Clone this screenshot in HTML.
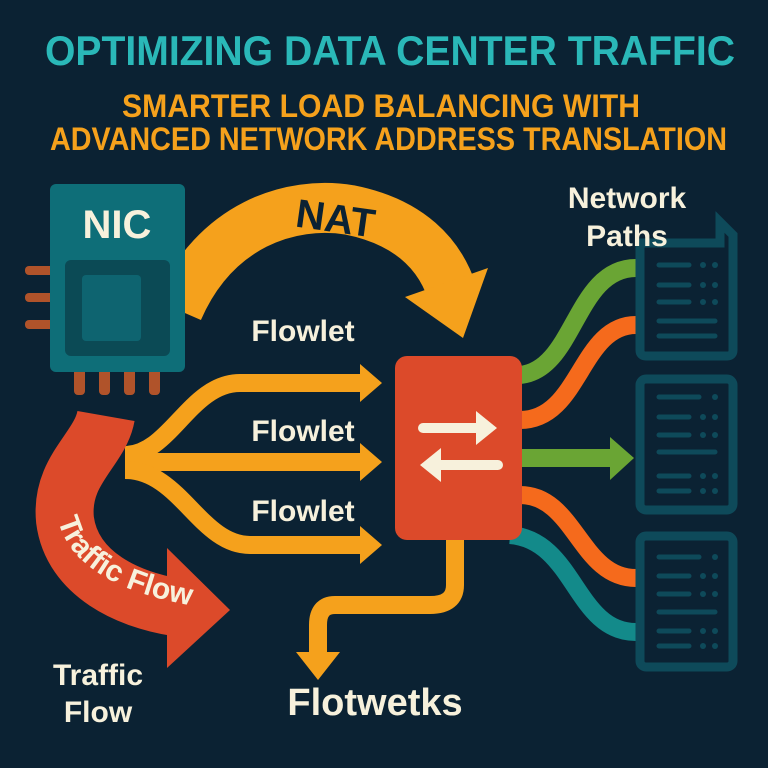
<!DOCTYPE html>
<html><head><meta charset="utf-8"><style>
html,body{margin:0;padding:0;background:#0b2233;}
svg{display:block}
text{font-family:"Liberation Sans",sans-serif;font-weight:bold}
</style></head><body>
<svg width="768" height="768" viewBox="0 0 768 768" xmlns="http://www.w3.org/2000/svg">
<rect width="768" height="768" fill="#0b2233"/>
<text x="45" y="65" font-size="42" fill="#2ab8b8" textLength="690" lengthAdjust="spacingAndGlyphs">OPTIMIZING DATA CENTER TRAFFIC</text>
<text x="122" y="117" font-size="32" fill="#f5a11c" textLength="518" lengthAdjust="spacingAndGlyphs">SMARTER LOAD BALANCING WITH</text>
<text x="50" y="150" font-size="32" fill="#f5a11c" textLength="677" lengthAdjust="spacingAndGlyphs">ADVANCED NETWORK ADDRESS TRANSLATION</text>

<!-- NAT arrow -->
<path d="M178 310 C215 225 290 200 350 210 C410 222 440 255 452 292" fill="none" stroke="#f5a11c" stroke-width="50"/>
<polygon points="405,297 488,268 463,338" fill="#f5a11c"/>
<text x="296" y="232" font-size="40" fill="#0b2233" transform="rotate(8 335 218)">NAT</text>

<!-- NIC -->
<rect x="25" y="266" width="30" height="9" rx="4" fill="#b0532a"/>
<rect x="25" y="293" width="30" height="9" rx="4" fill="#b0532a"/>
<rect x="25" y="320" width="30" height="9" rx="4" fill="#b0532a"/>
<rect x="74" y="365" width="11" height="30" rx="4" fill="#b0532a"/>
<rect x="99" y="365" width="11" height="30" rx="4" fill="#b0532a"/>
<rect x="124" y="365" width="11" height="30" rx="4" fill="#b0532a"/>
<rect x="149" y="365" width="11" height="30" rx="4" fill="#b0532a"/>
<rect x="50" y="184" width="135" height="188" rx="6" fill="#0e6e78"/>
<rect x="65" y="260" width="105" height="96" rx="6" fill="#0b4a55"/>
<rect x="82" y="275" width="59" height="66" rx="4" fill="#0e6470"/>
<text x="117" y="238" font-size="40" fill="#f7f1dc" text-anchor="middle">NIC</text>

<!-- Flowlets -->
<g fill="none" stroke="#f5a11c" stroke-width="18">
<path d="M125 455 C170 455 190 383 240 383 L370 383"/>
<path d="M125 462 L370 462"/>
<path d="M125 470 C180 470 200 545 250 545 L370 545"/>
</g>
<polygon points="360,364 382,383 360,402" fill="#f5a11c"/>
<polygon points="360,443 382,462 360,481" fill="#f5a11c"/>
<polygon points="360,526 382,545 360,564" fill="#f5a11c"/>
<text x="303" y="341" font-size="30" fill="#f7f1dc" text-anchor="middle" style="font-weight:600">Flowlet</text>
<text x="303" y="441" font-size="30" fill="#f7f1dc" text-anchor="middle" style="font-weight:600">Flowlet</text>
<text x="303" y="521" font-size="30" fill="#f7f1dc" text-anchor="middle" style="font-weight:600">Flowlet</text>

<!-- Traffic flow red arrow -->
<path d="M106 416 C100 450 60 470 65 520 C72 575 130 600 175 607" fill="none" stroke="#dc4a2a" stroke-width="58"/>
<polygon points="167,548 230,610 167,668" fill="#dc4a2a"/>
<path id="tfp" d="M58 520 C70 570 130 600 225 610" fill="none"/>
<text font-size="30" fill="#f7f1dc"><textPath href="#tfp">Traffic Flow</textPath></text>
<text x="98" y="685" font-size="30" fill="#f7f1dc" text-anchor="middle" style="font-weight:600">Traffic</text>
<text x="98" y="722" font-size="30" fill="#f7f1dc" text-anchor="middle" style="font-weight:600">Flow</text>

<!-- right lines -->
<g fill="none" stroke-width="18">
<path d="M520 375 C575 370 575 268 636 268" stroke="#6aa534"/>
<path d="M520 420 C580 420 580 325 636 325" stroke="#f56a1c"/>
<path d="M520 458 L610 458" stroke="#6aa534"/>
<path d="M520 495 C575 495 580 578 636 578" stroke="#f56a1c"/>
<path d="M510 535 C575 540 575 632 636 632" stroke="#138a8a"/>
<path d="M455 540 L455 585 Q455 605 430 605 L335 605 Q318 605 318 625 L318 655" stroke="#f5a11c"/>
</g>
<polygon points="610,437 634,458 610,480" fill="#6aa534"/>
<polygon points="296,652 340,652 318,680" fill="#f5a11c"/>

<!-- switch -->
<rect x="395" y="356" width="127" height="184" rx="12" fill="#dc4a2a"/>
<path d="M423 428 L480 428" stroke="#f7f1dc" stroke-width="10" stroke-linecap="round"/>
<polygon points="476,411 497,428 476,445" fill="#f7f1dc"/>
<path d="M440 465 L498 465" stroke="#f7f1dc" stroke-width="10" stroke-linecap="round"/>
<polygon points="441,448 420,465 441,482" fill="#f7f1dc"/>

<!-- servers -->
<g fill="none" stroke="#0e4a5a" stroke-width="9">
<path d="M640 243 L720 243 L720 222 L733 235 L733 350 Q733 356 727 356 L646 356 Q640 356 640 350 Z"/>
<rect x="640" y="379" width="93" height="131" rx="6"/>
<rect x="640" y="536" width="93" height="131" rx="6"/>
</g>
<g stroke="#0e4a5a" stroke-width="5" stroke-linecap="round">
<path d="M659 265h30M659 285h30M659 302h30M659 321h56M659 336h56"/>
<path d="M659 397h40M659 417h30M659 435h30M659 452h56M659 476h30M659 491h30"/>
<path d="M659 557h40M659 576h30M659 594h30M659 612h56M659 631h30M659 646h30"/>
</g>
<g fill="#0e4a5a">
<circle cx="703" cy="265" r="3"/><circle cx="715" cy="265" r="3"/>
<circle cx="703" cy="285" r="3"/><circle cx="715" cy="285" r="3"/>
<circle cx="703" cy="302" r="3"/><circle cx="715" cy="302" r="3"/>
<circle cx="715" cy="397" r="3"/>
<circle cx="703" cy="417" r="3"/><circle cx="715" cy="417" r="3"/>
<circle cx="703" cy="435" r="3"/><circle cx="715" cy="435" r="3"/>
<circle cx="703" cy="476" r="3"/><circle cx="715" cy="476" r="3"/>
<circle cx="703" cy="491" r="3"/><circle cx="715" cy="491" r="3"/>
<circle cx="715" cy="557" r="3"/>
<circle cx="703" cy="576" r="3"/><circle cx="715" cy="576" r="3"/>
<circle cx="703" cy="594" r="3"/><circle cx="715" cy="594" r="3"/>
<circle cx="703" cy="631" r="3"/><circle cx="715" cy="631" r="3"/>
<circle cx="703" cy="646" r="3"/><circle cx="715" cy="646" r="3"/>
</g>
<text x="627" y="208" font-size="30" fill="#f7f1dc" text-anchor="middle" style="font-weight:600">Network</text>
<text x="627" y="246" font-size="30" fill="#f7f1dc" text-anchor="middle" style="font-weight:600">Paths</text>
<text x="375" y="715" font-size="38" fill="#f7f1dc" text-anchor="middle" style="font-weight:600">Flotwetks</text>
</svg>
</body></html>
